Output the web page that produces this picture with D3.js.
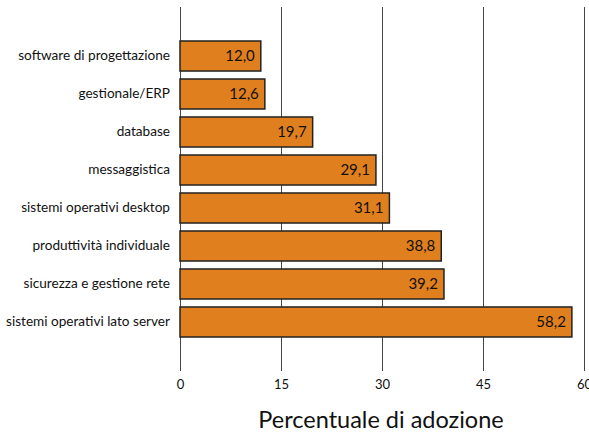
<!DOCTYPE html>
<html lang="it">
<head>
<meta charset="utf-8">
<title>Percentuale di adozione</title>
<script src="https://d3js.org/d3.v7.min.js"></script>
<style>
  body { margin: 0; background: #fff; }
  text { font-family: "Lato", "Open Sans", sans-serif; fill: #111; }
  .grid line { stroke: #444; stroke-width: 1; shape-rendering: crispEdges; }
  .bar { fill: #e07f1e; stroke: #222; stroke-width: 1.5; }
</style>
</head>
<body>
<script>
var categories = ["software di progettazione", "gestionale/ERP", "database", "messaggistica",
                  "sistemi operativi desktop", "produttività individuale",
                  "sicurezza e gestione rete", "sistemi operativi lato server"];
var values = [12.0, 12.6, 19.7, 29.1, 31.1, 38.8, 39.2, 58.2];
var ticks = [0, 15, 30, 45, 60];

var w = 589, h = 435;

var svg = d3.select("body").append("svg")
    .attr("width", w)
    .attr("height", h);

var x = d3.scaleLinear().domain([0, 60]).range([180, 584]);
var y = d3.scaleBand().domain(categories).range([22, 356])
    .paddingInner(0.21).paddingOuter(0.5);

// vertical grid lines
svg.append("g").attr("class", "grid")
  .selectAll("line").data(ticks).enter().append("line")
    .attr("x1", function(d) { return Math.round(x(d)) + 0.5; })
    .attr("x2", function(d) { return Math.round(x(d)) + 0.5; })
    .attr("y1", 7)
    .attr("y2", 371);

// bars
svg.selectAll(".bar").data(values).enter().append("rect")
    .attr("class", "bar")
    .attr("x", x(0))
    .attr("y", function(d, i) { return y(categories[i]); })
    .attr("width", function(d) { return x(d) - x(0); })
    .attr("height", y.bandwidth());

// value labels
var fmt = function(d) { return d.toFixed(1).replace(".", ","); };
svg.selectAll(".val").data(values).enter().append("text")
    .attr("class", "val")
    .attr("x", function(d) { return x(d) - 6; })
    .attr("y", function(d, i) { return y(categories[i]) + y.bandwidth() / 2; })
    .attr("dy", "0.36em")
    .attr("text-anchor", "end")
    .style("font-size", "15px")
    .text(fmt);

// category labels
var yAxis = d3.axisLeft(y).tickSize(0).tickPadding(0);
svg.append("g")
    .attr("transform", "translate(170,0)")
    .call(yAxis)
    .call(function(g) { g.select(".domain").remove(); })
    .selectAll("text")
    .style("font-size", "13.6px")
    .style("font-family", "Lato, 'Open Sans', sans-serif")
    .attr("fill", "#111");

// x tick labels
var xAxis = d3.axisBottom(x).tickValues(ticks).tickSize(0).tickPadding(0);
svg.append("g")
    .attr("transform", "translate(0,380)")
    .call(xAxis)
    .call(function(g) { g.select(".domain").remove(); })
    .selectAll("text")
    .style("font-size", "13px")
    .style("font-family", "Lato, 'Open Sans', sans-serif")
    .attr("fill", "#111");

// axis title
svg.append("text")
    .attr("x", 381)
    .attr("y", 428)
    .attr("text-anchor", "middle")
    .style("font-size", "23.5px")
    .text("Percentuale di adozione");
</script>
</body>
</html>
